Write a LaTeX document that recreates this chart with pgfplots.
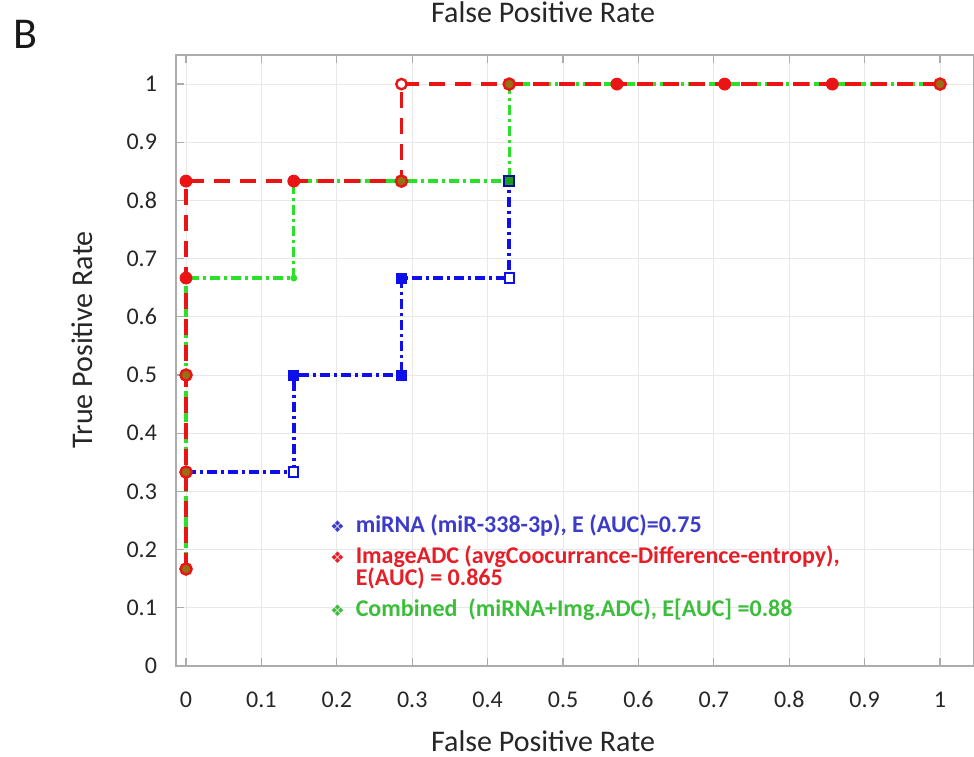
\documentclass[border=0pt]{standalone}
\usepackage{pgfplots}
\pgfplotsset{compat=1.18}
\usepackage{fontspec}
\setmainfont{Carlito}
\newfontfamily\dejavu{DejaVu Sans}
\definecolor{cblue}{RGB}{15,15,235}
\definecolor{cred}{RGB}{235,20,20}
\definecolor{cgreen}{RGB}{40,225,40}
\definecolor{tblue}{RGB}{60,60,200}
\definecolor{tred}{RGB}{230,30,40}
\definecolor{tgreen}{RGB}{60,190,60}
\definecolor{olivec}{RGB}{150,110,20}
\begin{document}
\begin{tikzpicture}
\begin{axis}[
  scale only axis, width=399pt, height=305.5pt,
  at={(0,0)}, anchor=south west,
  xmin=-0.0133, xmax=1.045, ymin=0, ymax=1.05,
  xtick={0,0.1,0.2,0.3,0.4,0.5,0.6,0.7,0.8,0.9,1},
  ytick={0,0.1,0.2,0.3,0.4,0.5,0.6,0.7,0.8,0.9,1},
  grid=major, major grid style={gray!18, line width=0.5pt},
  axis line style={gray!65, line width=1pt},
  tick align=inside, major tick length=4pt, tick style={gray!65, line width=0.6pt},
  ytick pos=left, xticklabel pos=lower,
  /pgf/number format/assume math mode=true,
  tick label style={font=\fontsize{12}{12}\selectfont, text=black!85},
  xticklabel style={anchor=base, yshift=-20.5pt},
  yticklabel style={xshift=-6pt},
  xlabel={False Positive Rate}, ylabel={True Positive Rate},
  label style={font=\fontsize{15}{15}\selectfont, text=black!85},
  x label style={at={(axis description cs:0.46,-0.1395)}, anchor=base},
  y label style={at={(axis description cs:-0.118,0.534)}, anchor=center},
  every axis title shift=0pt,
  title={False Positive Rate},
  title style={at={(axis description cs:0.46,1.054)}, anchor=base, font=\fontsize{15}{15}\selectfont, text=black!85},
  legend style={at={(rel axis cs:0.193,0.255)}, anchor=north west, draw=none, fill=none,
    font=\fontsize{12}{11}\selectfont\bfseries, cells={anchor=base west, align=left}, row sep=1.2pt, column sep=3.5pt, inner sep=0pt},
  legend image code/.code={\node[inner sep=0pt, anchor=base] at (0.25cm,0) {\dejavu\fontsize{8}{8}\selectfont ❖};},
  clip=false,
]
% legend entries
\addlegendimage{tblue}
\addlegendentry{\textcolor{tblue}{miRNA (miR-338-3p), E (AUC)=0.75}}
\addlegendimage{tred, legend image code/.code={\node[inner sep=0pt, anchor=base] at (0.25cm,11pt) {\dejavu\fontsize{8}{8}\selectfont ❖};}}
\addlegendentry{\textcolor{tred}{ImageADC (avgCoocurrance-Difference-entropy),}\\\textcolor{tred}{E(AUC) = 0.865}}
\addlegendimage{tgreen}
\addlegendentry{\textcolor{tgreen}{Combined\ \ (miRNA+Img.ADC), E[AUC] =0.88}}

% blue (miRNA)
\addplot[forget plot, cblue, line width=1.8pt, dash pattern=on 5pt off 2pt on 1.5pt off 2pt] coordinates {
(0,0.3333) (0.1429,0.3333) (0.1429,0.5) (0.2857,0.5) (0.2857,0.6667) (0.4286,0.6667) (0.4286,0.8333)};
% green (combined)
\addplot[forget plot, cgreen, line width=1.6pt, dash pattern=on 5pt off 2pt on 1.5pt off 2pt] coordinates {
(0,0.1667) (0,0.6667) (0.1429,0.6667) (0.1429,0.8333) (0.4286,0.8333) (0.4286,1) (1,1)};
% red (ImageADC)
\addplot[forget plot, cred, line width=1.8pt, dash pattern=on 8pt off 5pt] coordinates {
(0,0.1667) (0,0.3333) (0,0.5) (0,0.6667) (0,0.8333) (0.1429,0.8333) (0.2857,0.8333) (0.2857,1) (0.4286,1) (0.5714,1) (0.7143,1) (0.8571,1) (1,1)};

% blue markers
\addplot[forget plot, only marks, mark=square*, mark size=2.5pt, cblue, mark options={fill=cblue}] coordinates {
(0.1429,0.5) (0.2857,0.5) (0.2857,0.6667)};
\addplot[forget plot, only marks, mark=square*, mark size=2.3pt, cblue, mark options={fill=white, line width=1pt}] coordinates {
(0.1429,0.3333) (0.4286,0.6667)};
\addplot[forget plot, only marks, mark=square*, mark size=2.5pt, draw=cblue!70!black, mark options={fill=cgreen!70!black, line width=1pt}] coordinates {
(0.4286,0.8333)};
% green markers
\addplot[forget plot, only marks, mark=*, mark size=1.5pt, cgreen, mark options={fill=cgreen}] coordinates {
(0.1429,0.6667)};
% red markers
\addplot[forget plot, only marks, mark=*, mark size=3pt, cred, mark options={fill=cred}] coordinates {
(0,0.8333) (0,0.6667) (0.1429,0.8333) (0.5714,1) (0.7143,1) (0.8571,1)};
\addplot[forget plot, only marks, mark=*, mark size=2.8pt, cred, mark options={fill=olivec, line width=1.2pt}] coordinates {
(0,0.5) (0,0.3333) (0,0.1667) (0.2857,0.8333) (0.4286,1) (1,1)};
\addplot[forget plot, only marks, mark=*, mark size=2.6pt, cred, mark options={fill=white, line width=1.2pt}] coordinates {
(0.2857,1)};

\node[font=\fontsize{22}{22}\selectfont, text=black!90] at (rel axis cs:-0.189,1.033) {B};
\end{axis}
\pgfresetboundingbox
\path[use as bounding box] (-88pt,-45pt) rectangle (399pt,333pt);
\end{tikzpicture}
\end{document}
